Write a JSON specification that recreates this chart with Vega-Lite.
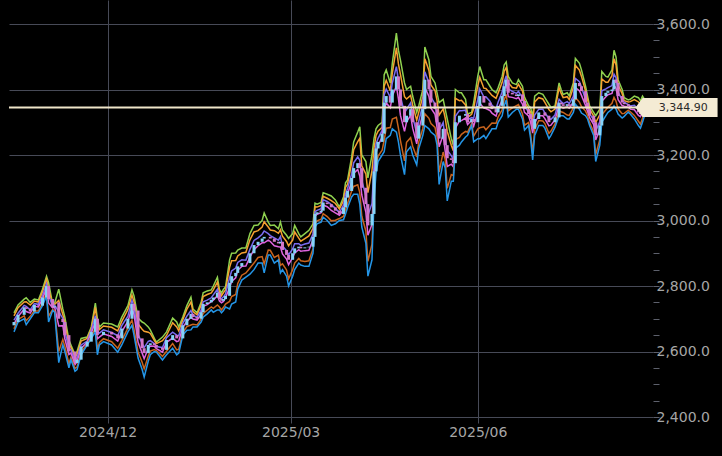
{
"$schema": "https://vega.github.io/schema/vega-lite/v6.json",
"width": 644, "height": 417,
"autosize": {"type": "none"},
"padding": {"left": 9, "top": 0, "right": 69, "bottom": 39},
"background": "#000000",
"config": {"view": {"stroke": null}, "axis": {"labelFont": "DejaVu Sans", "labelFontSize": 14, "labelColor": "#a6a6a6", "gridColor": "#474a57", "tickColor": "#5d606c", "domain": false, "title": null}},
"data": {"values": [
{"d":"2024-10-16","u3":2718,"u2":2709,"u1":2696,"c":2690,"l1":2684,"l2":2669,"l3":2660,"op":2680},
{"d":"2024-10-18","u3":2742,"u2":2734,"u1":2717,"c":2712,"l1":2707,"l2":2698,"l3":2690,"op":2690},
{"d":"2024-10-21","u3":2760,"u2":2751,"u1":2741,"c":2735,"l1":2729,"l2":2709,"l3":2700,"op":2712},
{"d":"2024-10-22","u3":2764,"u2":2752,"u1":2738,"c":2730,"l1":2722,"l2":2694,"l3":2682,"op":2735},
{"d":"2024-10-24","u3":2750,"u2":2742,"u1":2727,"c":2722,"l1":2717,"l2":2708,"l3":2700,"op":2730},
{"d":"2024-10-26","u3":2760,"u2":2754,"u1":2746,"c":2742,"l1":2738,"l2":2724,"l3":2718,"op":2722},
{"d":"2024-10-28","u3":2757,"u2":2751,"u1":2744,"c":2740,"l1":2736,"l2":2724,"l3":2718,"op":2742},
{"d":"2024-10-30","u3":2790,"u2":2782,"u1":2770,"c":2765,"l1":2760,"l2":2748,"l3":2740,"op":2740},
{"d":"2024-11-01","u3":2830,"u2":2821,"u1":2806,"c":2800,"l1":2794,"l2":2779,"l3":2770,"op":2765},
{"d":"2024-11-02","u3":2810,"u2":2792,"u1":2772,"c":2760,"l1":2748,"l2":2708,"l3":2690,"op":2800},
{"d":"2024-11-04","u3":2745,"u2":2742,"u1":2737,"c":2735,"l1":2733,"l2":2728,"l3":2725,"op":2760},
{"d":"2024-11-05","u3":2748,"u2":2744,"u1":2741,"c":2738,"l1":2735,"l2":2724,"l3":2720,"op":2735},
{"d":"2024-11-07","u3":2790,"u2":2756,"u1":2722,"c":2700,"l1":2678,"l2":2600,"l3":2566,"op":2750},
{"d":"2024-11-09","u3":2730,"u2":2713,"u1":2701,"c":2690,"l1":2679,"l2":2637,"l3":2620,"op":2700},
{"d":"2024-11-10","u3":2705,"u2":2689,"u1":2661,"c":2650,"l1":2639,"l2":2616,"l3":2600,"op":2690},
{"d":"2024-11-12","u3":2635,"u2":2622,"u1":2609,"c":2600,"l1":2591,"l2":2563,"l3":2550,"op":2650},
{"d":"2024-11-13","u3":2620,"u2":2613,"u1":2605,"c":2600,"l1":2595,"l2":2582,"l3":2575,"op":2600},
{"d":"2024-11-15","u3":2590,"u2":2582,"u1":2570,"c":2565,"l1":2560,"l2":2548,"l3":2540,"op":2600},
{"d":"2024-11-16","u3":2600,"u2":2592,"u1":2581,"c":2575,"l1":2569,"l2":2553,"l3":2545,"op":2565},
{"d":"2024-11-18","u3":2640,"u2":2632,"u1":2620,"c":2615,"l1":2610,"l2":2598,"l3":2590,"op":2575},
{"d":"2024-11-21","u3":2644,"u2":2640,"u1":2632,"c":2630,"l1":2628,"l2":2624,"l3":2620,"op":2615},
{"d":"2024-11-23","u3":2675,"u2":2670,"u1":2664,"c":2660,"l1":2656,"l2":2645,"l3":2640,"op":2630},
{"d":"2024-11-25","u3":2748,"u2":2735,"u1":2709,"c":2700,"l1":2691,"l2":2673,"l3":2660,"op":2660},
{"d":"2024-11-26","u3":2700,"u2":2683,"u1":2661,"c":2650,"l1":2639,"l2":2607,"l3":2590,"op":2700},
{"d":"2024-11-27","u3":2675,"u2":2667,"u1":2656,"c":2650,"l1":2644,"l2":2628,"l3":2620,"op":2650},
{"d":"2024-11-29","u3":2687,"u2":2678,"u1":2666,"c":2660,"l1":2654,"l2":2639,"l3":2630,"op":2650},
{"d":"2024-12-03","u3":2684,"u2":2674,"u1":2658,"c":2652,"l1":2646,"l2":2630,"l3":2620,"op":2660},
{"d":"2024-12-06","u3":2675,"u2":2663,"u1":2648,"c":2640,"l1":2632,"l2":2610,"l3":2598,"op":2652},
{"d":"2024-12-08","u3":2705,"u2":2692,"u1":2679,"c":2670,"l1":2661,"l2":2633,"l3":2620,"op":2640},
{"d":"2024-12-11","u3":2740,"u2":2728,"u1":2708,"c":2700,"l1":2692,"l2":2672,"l3":2660,"op":2670},
{"d":"2024-12-13","u3":2788,"u2":2772,"u1":2756,"c":2745,"l1":2734,"l2":2696,"l3":2680,"op":2700},
{"d":"2024-12-14","u3":2770,"u2":2752,"u1":2737,"c":2725,"l1":2713,"l2":2668,"l3":2650,"op":2745},
{"d":"2024-12-16","u3":2702,"u2":2684,"u1":2652,"c":2640,"l1":2628,"l2":2598,"l3":2580,"op":2725},
{"d":"2024-12-18","u3":2690,"u2":2668,"u1":2625,"c":2610,"l1":2595,"l2":2567,"l3":2545,"op":2640},
{"d":"2024-12-19","u3":2687,"u2":2662,"u1":2612,"c":2595,"l1":2578,"l2":2547,"l3":2522,"op":2610},
{"d":"2024-12-21","u3":2675,"u2":2659,"u1":2631,"c":2620,"l1":2609,"l2":2586,"l3":2570,"op":2595},
{"d":"2024-12-22","u3":2666,"u2":2655,"u1":2633,"c":2625,"l1":2617,"l2":2601,"l3":2590,"op":2620},
{"d":"2024-12-24","u3":2640,"u2":2634,"u1":2624,"c":2620,"l1":2616,"l2":2606,"l3":2600,"op":2625},
{"d":"2024-12-25","u3":2629,"u2":2624,"u1":2615,"c":2612,"l1":2609,"l2":2603,"l3":2598,"op":2620},
{"d":"2024-12-28","u3":2644,"u2":2633,"u1":2612,"c":2605,"l1":2598,"l2":2585,"l3":2574,"op":2612},
{"d":"2024-12-30","u3":2660,"u2":2649,"u1":2642,"c":2635,"l1":2628,"l2":2601,"l3":2590,"op":2605},
{"d":"2025-01-02","u3":2702,"u2":2688,"u1":2659,"c":2650,"l1":2641,"l2":2624,"l3":2610,"op":2635},
{"d":"2025-01-04","u3":2690,"u2":2675,"u1":2650,"c":2640,"l1":2630,"l2":2605,"l3":2590,"op":2650},
{"d":"2025-01-05","u3":2675,"u2":2663,"u1":2648,"c":2640,"l1":2632,"l2":2607,"l3":2595,"op":2640},
{"d":"2025-01-07","u3":2705,"u2":2697,"u1":2686,"c":2680,"l1":2674,"l2":2658,"l3":2650,"op":2640},
{"d":"2025-01-09","u3":2740,"u2":2729,"u1":2708,"c":2700,"l1":2692,"l2":2676,"l3":2665,"op":2680},
{"d":"2025-01-11","u3":2766,"u2":2751,"u1":2725,"c":2715,"l1":2705,"l2":2681,"l3":2666,"op":2700},
{"d":"2025-01-12","u3":2730,"u2":2722,"u1":2711,"c":2705,"l1":2699,"l2":2683,"l3":2675,"op":2715},
{"d":"2025-01-14","u3":2718,"u2":2712,"u1":2704,"c":2700,"l1":2696,"l2":2681,"l3":2675,"op":2705},
{"d":"2025-01-16","u3":2750,"u2":2741,"u1":2726,"c":2720,"l1":2714,"l2":2699,"l3":2690,"op":2700},
{"d":"2025-01-17","u3":2779,"u2":2768,"u1":2752,"c":2745,"l1":2738,"l2":2716,"l3":2705,"op":2720},
{"d":"2025-01-19","u3":2785,"u2":2774,"u1":2757,"c":2750,"l1":2743,"l2":2726,"l3":2715,"op":2745},
{"d":"2025-01-21","u3":2788,"u2":2779,"u1":2764,"c":2758,"l1":2752,"l2":2736,"l3":2727,"op":2750},
{"d":"2025-01-22","u3":2800,"u2":2788,"u1":2773,"c":2765,"l1":2757,"l2":2732,"l3":2720,"op":2758},
{"d":"2025-01-24","u3":2827,"u2":2812,"u1":2790,"c":2780,"l1":2770,"l2":2742,"l3":2727,"op":2765},
{"d":"2025-01-25","u3":2790,"u2":2781,"u1":2766,"c":2760,"l1":2754,"l2":2736,"l3":2727,"op":2780},
{"d":"2025-01-26","u3":2779,"u2":2770,"u1":2761,"c":2755,"l1":2749,"l2":2727,"l3":2718,"op":2760},
{"d":"2025-01-27","u3":2790,"u2":2780,"u1":2767,"c":2760,"l1":2753,"l2":2735,"l3":2725,"op":2755},
{"d":"2025-01-28","u3":2797,"u2":2788,"u1":2776,"c":2770,"l1":2764,"l2":2745,"l3":2736,"op":2760},
{"d":"2025-01-30","u3":2880,"u2":2857,"u1":2825,"c":2810,"l1":2795,"l2":2753,"l3":2730,"op":2770},
{"d":"2025-01-31","u3":2900,"u2":2877,"u1":2846,"c":2830,"l1":2814,"l2":2768,"l3":2745,"op":2810},
{"d":"2025-02-02","u3":2901,"u2":2878,"u1":2855,"c":2840,"l1":2825,"l2":2774,"l3":2751,"op":2830},
{"d":"2025-02-03","u3":2910,"u2":2892,"u1":2872,"c":2860,"l1":2848,"l2":2808,"l3":2790,"op":2840},
{"d":"2025-02-05","u3":2916,"u2":2901,"u1":2880,"c":2870,"l1":2860,"l2":2833,"l3":2818,"op":2860},
{"d":"2025-02-07","u3":2916,"u2":2903,"u1":2879,"c":2870,"l1":2861,"l2":2840,"l3":2827,"op":2870},
{"d":"2025-02-09","u3":2960,"u2":2941,"u1":2912,"c":2900,"l1":2888,"l2":2855,"l3":2836,"op":2870},
{"d":"2025-02-11","u3":2985,"u2":2965,"u1":2939,"c":2925,"l1":2911,"l2":2870,"l3":2850,"op":2900},
{"d":"2025-02-13","u3":2986,"u2":2969,"u1":2947,"c":2935,"l1":2923,"l2":2887,"l3":2870,"op":2925},
{"d":"2025-02-15","u3":3000,"u2":2980,"u1":2958,"c":2945,"l1":2932,"l2":2890,"l3":2870,"op":2935},
{"d":"2025-02-16","u3":3023,"u2":2996,"u1":2968,"c":2950,"l1":2932,"l2":2867,"l3":2840,"op":2945},
{"d":"2025-02-18","u3":2995,"u2":2980,"u1":2960,"c":2950,"l1":2940,"l2":2910,"l3":2895,"op":2950},
{"d":"2025-02-19","u3":2985,"u2":2971,"u1":2954,"c":2945,"l1":2936,"l2":2909,"l3":2895,"op":2950},
{"d":"2025-02-21","u3":2986,"u2":2969,"u1":2947,"c":2935,"l1":2923,"l2":2887,"l3":2870,"op":2945},
{"d":"2025-02-23","u3":2975,"u2":2961,"u1":2940,"c":2930,"l1":2920,"l2":2894,"l3":2880,"op":2935},
{"d":"2025-02-24","u3":2995,"u2":2972,"u1":2951,"c":2935,"l1":2919,"l2":2863,"l3":2840,"op":2930},
{"d":"2025-02-25","u3":2970,"u2":2952,"u1":2922,"c":2910,"l1":2898,"l2":2868,"l3":2850,"op":2935},
{"d":"2025-02-27","u3":2955,"u2":2936,"u1":2908,"c":2895,"l1":2882,"l2":2849,"l3":2830,"op":2910},
{"d":"2025-02-28","u3":2945,"u2":2923,"u1":2895,"c":2880,"l1":2865,"l2":2822,"l3":2800,"op":2895},
{"d":"2025-03-02","u3":2960,"u2":2940,"u1":2913,"c":2900,"l1":2887,"l2":2850,"l3":2830,"op":2880},
{"d":"2025-03-03","u3":2985,"u2":2965,"u1":2929,"c":2915,"l1":2901,"l2":2870,"l3":2850,"op":2900},
{"d":"2025-03-05","u3":2960,"u2":2946,"u1":2929,"c":2920,"l1":2911,"l2":2884,"l3":2870,"op":2915},
{"d":"2025-03-06","u3":2950,"u2":2937,"u1":2924,"c":2915,"l1":2906,"l2":2877,"l3":2864,"op":2920},
{"d":"2025-03-08","u3":2960,"u2":2945,"u1":2928,"c":2918,"l1":2908,"l2":2875,"l3":2860,"op":2915},
{"d":"2025-03-10","u3":2970,"u2":2953,"u1":2931,"c":2920,"l1":2909,"l2":2877,"l3":2860,"op":2918},
{"d":"2025-03-12","u3":2990,"u2":2976,"u1":2959,"c":2950,"l1":2941,"l2":2914,"l3":2900,"op":2920},
{"d":"2025-03-13","u3":3053,"u2":3042,"u1":3027,"c":3020,"l1":3013,"l2":2991,"l3":2980,"op":2950},
{"d":"2025-03-14","u3":3050,"u2":3041,"u1":3031,"c":3025,"l1":3019,"l2":2999,"l3":2990,"op":3020},
{"d":"2025-03-16","u3":3055,"u2":3046,"u1":3036,"c":3030,"l1":3024,"l2":3004,"l3":2995,"op":3025},
{"d":"2025-03-17","u3":3085,"u2":3074,"u1":3063,"c":3055,"l1":3047,"l2":3021,"l3":3010,"op":3030},
{"d":"2025-03-19","u3":3080,"u2":3068,"u1":3058,"c":3050,"l1":3042,"l2":3012,"l3":3000,"op":3055},
{"d":"2025-03-21","u3":3075,"u2":3061,"u1":3049,"c":3040,"l1":3031,"l2":2999,"l3":2985,"op":3050},
{"d":"2025-03-23","u3":3063,"u2":3052,"u1":3037,"c":3030,"l1":3023,"l2":3001,"l3":2990,"op":3040},
{"d":"2025-03-25","u3":3041,"u2":3035,"u1":3024,"c":3020,"l1":3016,"l2":3006,"l3":3000,"op":3030},
{"d":"2025-03-27","u3":3072,"u2":3061,"u1":3047,"c":3040,"l1":3033,"l2":3013,"l3":3002,"op":3020},
{"d":"2025-03-28","u3":3115,"u2":3101,"u1":3080,"c":3070,"l1":3060,"l2":3034,"l3":3020,"op":3040},
{"d":"2025-03-29","u3":3124,"u2":3111,"u1":3098,"c":3090,"l1":3082,"l2":3053,"l3":3040,"op":3070},
{"d":"2025-03-31","u3":3194,"u2":3176,"u1":3142,"c":3130,"l1":3118,"l2":3090,"l3":3072,"op":3090},
{"d":"2025-04-01","u3":3240,"u2":3216,"u1":3176,"c":3160,"l1":3144,"l2":3104,"l3":3080,"op":3130},
{"d":"2025-04-03","u3":3270,"u2":3241,"u1":3194,"c":3175,"l1":3156,"l2":3109,"l3":3080,"op":3160},
{"d":"2025-04-04","u3":3286,"u2":3251,"u1":3184,"c":3160,"l1":3136,"l2":3085,"l3":3050,"op":3175},
{"d":"2025-04-05","u3":3200,"u2":3167,"u1":3122,"c":3100,"l1":3078,"l2":3013,"l3":2980,"op":3160},
{"d":"2025-04-07","u3":3180,"u2":3142,"u1":3075,"c":3050,"l1":3025,"l2":2968,"l3":2930,"op":3100},
{"d":"2025-04-08","u3":3130,"u2":3085,"u1":3015,"c":2985,"l1":2955,"l2":2875,"l3":2830,"op":3050},
{"d":"2025-04-10","u3":3200,"u2":3152,"u1":3052,"c":3020,"l1":2988,"l2":2928,"l3":2880,"op":2985},
{"d":"2025-04-11","u3":3250,"u2":3221,"u1":3169,"c":3150,"l1":3131,"l2":3089,"l3":3060,"op":3020},
{"d":"2025-04-12","u3":3280,"u2":3260,"u1":3234,"c":3220,"l1":3206,"l2":3165,"l3":3145,"op":3150},
{"d":"2025-04-13","u3":3290,"u2":3273,"u1":3251,"c":3240,"l1":3229,"l2":3197,"l3":3180,"op":3220},
{"d":"2025-04-15","u3":3300,"u2":3285,"u1":3275,"c":3265,"l1":3255,"l2":3215,"l3":3200,"op":3240},
{"d":"2025-04-16","u3":3445,"u2":3410,"u1":3384,"c":3360,"l1":3336,"l2":3245,"l3":3210,"op":3265},
{"d":"2025-04-17","u3":3460,"u2":3428,"u1":3401,"c":3380,"l1":3359,"l2":3282,"l3":3250,"op":3360},
{"d":"2025-04-19","u3":3420,"u2":3396,"u1":3376,"c":3360,"l1":3344,"l2":3284,"l3":3260,"op":3380},
{"d":"2025-04-20","u3":3480,"u2":3450,"u1":3420,"c":3400,"l1":3380,"l2":3310,"l3":3280,"op":3360},
{"d":"2025-04-22","u3":3572,"u2":3527,"u1":3470,"c":3440,"l1":3410,"l2":3315,"l3":3270,"op":3400},
{"d":"2025-04-23","u3":3520,"u2":3478,"u1":3428,"c":3400,"l1":3372,"l2":3282,"l3":3240,"op":3440},
{"d":"2025-04-24","u3":3490,"u2":3446,"u1":3379,"c":3350,"l1":3321,"l2":3244,"l3":3200,"op":3400},
{"d":"2025-04-26","u3":3420,"u2":3378,"u1":3328,"c":3300,"l1":3272,"l2":3182,"l3":3140,"op":3350},
{"d":"2025-04-27","u3":3400,"u2":3371,"u1":3339,"c":3320,"l1":3301,"l2":3239,"l3":3210,"op":3300},
{"d":"2025-04-29","u3":3410,"u2":3382,"u1":3359,"c":3340,"l1":3321,"l2":3253,"l3":3225,"op":3320},
{"d":"2025-04-30","u3":3380,"u2":3353,"u1":3318,"c":3300,"l1":3282,"l2":3227,"l3":3200,"op":3340},
{"d":"2025-05-02","u3":3330,"u2":3306,"u1":3266,"c":3250,"l1":3234,"l2":3194,"l3":3170,"op":3300},
{"d":"2025-05-03","u3":3350,"u2":3330,"u1":3303,"c":3290,"l1":3277,"l2":3240,"l3":3220,"op":3250},
{"d":"2025-05-05","u3":3400,"u2":3379,"u1":3354,"c":3340,"l1":3326,"l2":3281,"l3":3260,"op":3290},
{"d":"2025-05-06","u3":3530,"u2":3494,"u1":3454,"c":3430,"l1":3406,"l2":3326,"l3":3290,"op":3340},
{"d":"2025-05-08","u3":3490,"u2":3458,"u1":3421,"c":3400,"l1":3379,"l2":3312,"l3":3280,"op":3430},
{"d":"2025-05-09","u3":3440,"u2":3414,"u1":3377,"c":3360,"l1":3343,"l2":3296,"l3":3270,"op":3400},
{"d":"2025-05-11","u3":3420,"u2":3396,"u1":3356,"c":3340,"l1":3324,"l2":3284,"l3":3260,"op":3360},
{"d":"2025-05-12","u3":3390,"u2":3366,"u1":3316,"c":3300,"l1":3284,"l2":3254,"l3":3230,"op":3340},
{"d":"2025-05-13","u3":3360,"u2":3322,"u1":3275,"c":3250,"l1":3225,"l2":3148,"l3":3110,"op":3300},
{"d":"2025-05-15","u3":3370,"u2":3341,"u1":3299,"c":3280,"l1":3261,"l2":3209,"l3":3180,"op":3250},
{"d":"2025-05-16","u3":3340,"u2":3313,"u1":3248,"c":3230,"l1":3212,"l2":3187,"l3":3160,"op":3280},
{"d":"2025-05-17","u3":3310,"u2":3272,"u1":3215,"c":3190,"l1":3165,"l2":3098,"l3":3060,"op":3230},
{"d":"2025-05-19","u3":3250,"u2":3230,"u1":3198,"c":3185,"l1":3172,"l2":3140,"l3":3120,"op":3190},
{"d":"2025-05-20","u3":3230,"u2":3213,"u1":3186,"c":3175,"l1":3164,"l2":3137,"l3":3120,"op":3185},
{"d":"2025-05-21","u3":3400,"u2":3373,"u1":3318,"c":3300,"l1":3282,"l2":3247,"l3":3220,"op":3175},
{"d":"2025-05-23","u3":3390,"u2":3366,"u1":3336,"c":3320,"l1":3304,"l2":3254,"l3":3230,"op":3300},
{"d":"2025-05-24","u3":3390,"u2":3367,"u1":3335,"c":3320,"l1":3305,"l2":3263,"l3":3240,"op":3320},
{"d":"2025-05-26","u3":3370,"u2":3353,"u1":3337,"c":3325,"l1":3313,"l2":3272,"l3":3255,"op":3320},
{"d":"2025-05-27","u3":3325,"u2":3315,"u1":3307,"c":3300,"l1":3293,"l2":3270,"l3":3260,"op":3325},
{"d":"2025-05-29","u3":3330,"u2":3324,"u1":3314,"c":3310,"l1":3306,"l2":3296,"l3":3290,"op":3300},
{"d":"2025-05-30","u3":3360,"u2":3342,"u1":3312,"c":3300,"l1":3288,"l2":3258,"l3":3240,"op":3310},
{"d":"2025-06-01","u3":3440,"u2":3411,"u1":3369,"c":3350,"l1":3331,"l2":3279,"l3":3250,"op":3300},
{"d":"2025-06-02","u3":3470,"u2":3437,"u1":3402,"c":3380,"l1":3358,"l2":3283,"l3":3250,"op":3350},
{"d":"2025-06-04","u3":3430,"u2":3404,"u1":3377,"c":3360,"l1":3343,"l2":3286,"l3":3260,"op":3380},
{"d":"2025-06-05","u3":3430,"u2":3403,"u1":3378,"c":3360,"l1":3342,"l2":3277,"l3":3250,"op":3360},
{"d":"2025-06-07","u3":3410,"u2":3389,"u1":3364,"c":3350,"l1":3336,"l2":3291,"l3":3270,"op":3360},
{"d":"2025-06-08","u3":3400,"u2":3382,"u1":3352,"c":3340,"l1":3328,"l2":3298,"l3":3280,"op":3350},
{"d":"2025-06-10","u3":3390,"u2":3373,"u1":3341,"c":3330,"l1":3319,"l2":3297,"l3":3280,"op":3340},
{"d":"2025-06-11","u3":3405,"u2":3389,"u1":3361,"c":3350,"l1":3339,"l2":3316,"l3":3300,"op":3330},
{"d":"2025-06-13","u3":3440,"u2":3422,"u1":3392,"c":3380,"l1":3368,"l2":3338,"l3":3320,"op":3350},
{"d":"2025-06-14","u3":3475,"u2":3456,"u1":3423,"c":3410,"l1":3397,"l2":3369,"l3":3350,"op":3380},
{"d":"2025-06-15","u3":3484,"u2":3467,"u1":3442,"c":3430,"l1":3418,"l2":3385,"l3":3368,"op":3410},
{"d":"2025-06-16","u3":3440,"u2":3421,"u1":3402,"c":3390,"l1":3378,"l2":3335,"l3":3316,"op":3430},
{"d":"2025-06-18","u3":3420,"u2":3406,"u1":3394,"c":3385,"l1":3376,"l2":3344,"l3":3330,"op":3390},
{"d":"2025-06-20","u3":3415,"u2":3404,"u1":3388,"c":3380,"l1":3372,"l2":3351,"l3":3340,"op":3385},
{"d":"2025-06-21","u3":3430,"u2":3416,"u1":3394,"c":3385,"l1":3376,"l2":3354,"l3":3340,"op":3380},
{"d":"2025-06-23","u3":3410,"u2":3395,"u1":3375,"c":3365,"l1":3355,"l2":3325,"l3":3310,"op":3385},
{"d":"2025-06-24","u3":3377,"u2":3362,"u1":3350,"c":3340,"l1":3330,"l2":3291,"l3":3276,"op":3365},
{"d":"2025-06-26","u3":3350,"u2":3341,"u1":3331,"c":3325,"l1":3319,"l2":3299,"l3":3290,"op":3340},
{"d":"2025-06-27","u3":3345,"u2":3331,"u1":3320,"c":3310,"l1":3300,"l2":3264,"l3":3250,"op":3325},
{"d":"2025-06-28","u3":3316,"u2":3296,"u1":3293,"c":3280,"l1":3267,"l2":3205,"l3":3185,"op":3310},
{"d":"2025-06-29","u3":3380,"u2":3362,"u1":3322,"c":3310,"l1":3298,"l2":3278,"l3":3260,"op":3280},
{"d":"2025-07-01","u3":3390,"u2":3375,"u1":3340,"c":3330,"l1":3320,"l2":3305,"l3":3290,"op":3310},
{"d":"2025-07-03","u3":3385,"u2":3371,"u1":3340,"c":3330,"l1":3320,"l2":3304,"l3":3290,"op":3330},
{"d":"2025-07-04","u3":3375,"u2":3361,"u1":3329,"c":3320,"l1":3311,"l2":3296,"l3":3282,"op":3330},
{"d":"2025-07-06","u3":3355,"u2":3339,"u1":3311,"c":3300,"l1":3289,"l2":3266,"l3":3250,"op":3320},
{"d":"2025-07-07","u3":3345,"u2":3332,"u1":3309,"c":3300,"l1":3291,"l2":3273,"l3":3260,"op":3300},
{"d":"2025-07-09","u3":3350,"u2":3340,"u1":3322,"c":3315,"l1":3308,"l2":3295,"l3":3285,"op":3300},
{"d":"2025-07-11","u3":3420,"u2":3405,"u1":3370,"c":3360,"l1":3350,"l2":3335,"l3":3320,"op":3315},
{"d":"2025-07-12","u3":3400,"u2":3388,"u1":3363,"c":3355,"l1":3347,"l2":3332,"l3":3320,"op":3360},
{"d":"2025-07-13","u3":3385,"u2":3375,"u1":3357,"c":3350,"l1":3343,"l2":3330,"l3":3320,"op":3355},
{"d":"2025-07-15","u3":3390,"u2":3378,"u1":3363,"c":3355,"l1":3347,"l2":3322,"l3":3310,"op":3350},
{"d":"2025-07-16","u3":3380,"u2":3369,"u1":3357,"c":3350,"l1":3343,"l2":3321,"l3":3310,"op":3355},
{"d":"2025-07-18","u3":3420,"u2":3406,"u1":3379,"c":3370,"l1":3361,"l2":3344,"l3":3330,"op":3350},
{"d":"2025-07-19","u3":3495,"u2":3474,"u1":3434,"c":3420,"l1":3406,"l2":3376,"l3":3355,"op":3370},
{"d":"2025-07-21","u3":3480,"u2":3459,"u1":3424,"c":3410,"l1":3396,"l2":3361,"l3":3340,"op":3420},
{"d":"2025-07-22","u3":3460,"u2":3440,"u1":3408,"c":3395,"l1":3382,"l2":3348,"l3":3328,"op":3410},
{"d":"2025-07-24","u3":3410,"u2":3396,"u1":3369,"c":3360,"l1":3351,"l2":3334,"l3":3320,"op":3395},
{"d":"2025-07-25","u3":3380,"u2":3369,"u1":3347,"c":3340,"l1":3333,"l2":3321,"l3":3310,"op":3360},
{"d":"2025-07-26","u3":3350,"u2":3341,"u1":3326,"c":3320,"l1":3314,"l2":3299,"l3":3290,"op":3340},
{"d":"2025-07-28","u3":3330,"u2":3319,"u1":3307,"c":3300,"l1":3293,"l2":3271,"l3":3260,"op":3320},
{"d":"2025-07-29","u3":3320,"u2":3299,"u1":3274,"c":3260,"l1":3246,"l2":3201,"l3":3180,"op":3300},
{"d":"2025-07-31","u3":3340,"u2":3323,"u1":3301,"c":3290,"l1":3279,"l2":3247,"l3":3230,"op":3260},
{"d":"2025-08-01","u3":3455,"u2":3432,"u1":3396,"c":3380,"l1":3364,"l2":3323,"l3":3300,"op":3290},
{"d":"2025-08-03","u3":3440,"u2":3422,"u1":3402,"c":3390,"l1":3378,"l2":3338,"l3":3320,"op":3380},
{"d":"2025-08-04","u3":3438,"u2":3422,"u1":3406,"c":3395,"l1":3384,"l2":3346,"l3":3330,"op":3390},
{"d":"2025-08-06","u3":3460,"u2":3442,"u1":3412,"c":3400,"l1":3388,"l2":3358,"l3":3340,"op":3395},
{"d":"2025-08-07","u3":3520,"u2":3494,"u1":3447,"c":3430,"l1":3413,"l2":3376,"l3":3350,"op":3400},
{"d":"2025-08-08","u3":3499,"u2":3475,"u1":3436,"c":3420,"l1":3404,"l2":3364,"l3":3340,"op":3430},
{"d":"2025-08-09","u3":3430,"u2":3414,"u1":3391,"c":3380,"l1":3369,"l2":3341,"l3":3325,"op":3420},
{"d":"2025-08-11","u3":3400,"u2":3387,"u1":3369,"c":3360,"l1":3351,"l2":3326,"l3":3313,"op":3380},
{"d":"2025-08-12","u3":3375,"u2":3366,"u1":3361,"c":3355,"l1":3349,"l2":3327,"l3":3318,"op":3360},
{"d":"2025-08-14","u3":3368,"u2":3362,"u1":3354,"c":3350,"l1":3346,"l2":3337,"l3":3331,"op":3355},
{"d":"2025-08-15","u3":3370,"u2":3363,"u1":3350,"c":3345,"l1":3340,"l2":3332,"l3":3325,"op":3350},
{"d":"2025-08-17","u3":3380,"u2":3369,"u1":3352,"c":3345,"l1":3338,"l2":3321,"l3":3310,"op":3345},
{"d":"2025-08-19","u3":3375,"u2":3362,"u1":3339,"c":3330,"l1":3321,"l2":3303,"l3":3290,"op":3345},
{"d":"2025-08-20","u3":3365,"u2":3353,"u1":3333,"c":3325,"l1":3317,"l2":3294,"l3":3282,"op":3330},
{"d":"2025-08-21","u3":3380,"u2":3368,"u1":3348,"c":3340,"l1":3332,"l2":3312,"l3":3300,"op":3325},
{"d":"2025-08-22","u3":3370,"u2":3362,"u1":3350,"c":3344.9,"l1":3340,"l2":3328,"l3":3320,"op":3340}
]},
"encoding": {
  "x": {"type": "temporal",
        "scale": {"type": "utc", "domain": [{"year":2024,"month":10,"date":16,"utc":true},{"year":2025,"month":8,"date":23,"hours":17,"utc":true}]},
        "axis": {"title": null, "values": [{"year":2024,"month":12,"date":1,"utc":true},{"year":2025,"month":3,"date":1,"utc":true},{"year":2025,"month":6,"date":1,"utc":true}], "labelExpr": "utcFormat(datum.value, '%Y/%m')", "grid": true, "tickSize": 6, "tickColor": "#474a57", "labelPadding": 2, "labelOverlap": false}},
  "y": {"type": "quantitative",
        "scale": {"domain": [2400, 3673.3], "nice": false, "zero": false},
        "axis": {"title": null, "orient": "right", "values": [2400,2450,2500,2550,2600,2650,2700,2750,2800,2850,2900,2950,3000,3050,3100,3150,3200,3250,3300,3350,3400,3450,3500,3550,3600],
                 "labelExpr": "datum.value % 200 === 0 ? format(datum.value, ',.1f') : ''",
                 "gridOpacity": {"condition": {"test": "datum.value % 200 === 0", "value": 1}, "value": 0},
                 "tickSize": 6, "labelPadding": -3, "labelOverlap": false, "labelBound": false}}
},
"layer": [
{"transform": [{"fold": ["u3","u2","u1","l1","l2","l3"], "as": ["band","val"]}],
 "mark": {"type": "line", "strokeWidth": 1.5, "clip": true},
 "encoding": {
  "x": {"field": "d", "type": "temporal"},
  "y": {"field": "val", "type": "quantitative"},
  "color": {"field": "band", "type": "nominal", "legend": null,
            "scale": {"domain": ["u3","u2","u1","l1","l2","l3"], "range": ["#8fd14f","#f5a030","#7a6cf0","#e064e0","#c8641e","#2496e8"]}}
 }},
{"mark": {"type": "bar", "size": 3, "clip": true},
 "encoding": {
  "x": {"field": "d", "type": "temporal"},
  "y": {"field": "op", "type": "quantitative"},
  "y2": {"field": "c"},
  "color": {"condition": {"test": "datum.c >= datum.op", "value": "#86d3f7"}, "value": "#d277c9"}
 }},
{"data": {"values": [{}]},
 "mark": {"type": "rule", "color": "#efe5c9", "strokeWidth": 2},
 "encoding": {"x": null, "y": {"datum": 3344.9, "type": "quantitative"}}},
{"data": {"values": [{}]},
 "mark": {"type": "point", "shape": "M-1,0L-0.83,-0.232L1,-0.232L1,0.232L-0.83,0.232Z", "filled": true, "fill": "#f4ebd4", "opacity": 1, "size": 6724, "strokeWidth": 0, "clip": false},
 "encoding": {
  "x": {"datum": {"year":2025,"month":9,"date":6,"hours":18,"utc":true}, "type": "temporal"},
  "y": {"datum": 3344.9, "type": "quantitative"}}},
{"data": {"values": [{}]},
 "mark": {"type": "text", "text": "3,344.90", "font": "DejaVu Sans", "fontSize": 11, "color": "#2a2a2a", "align": "center", "baseline": "middle", "clip": false},
 "encoding": {
  "x": {"datum": {"year":2025,"month":9,"date":10,"utc":true}, "type": "temporal"},
  "y": {"datum": 3344.9, "type": "quantitative"}}}
]
}
